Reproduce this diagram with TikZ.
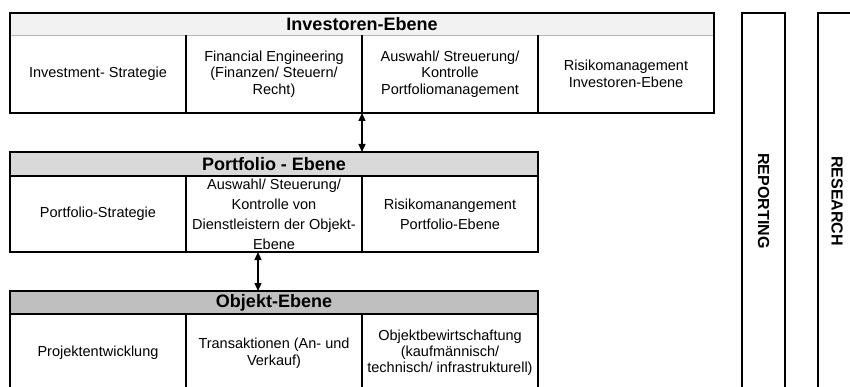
\documentclass[tikz,border=0pt]{standalone}
\usepackage{fontspec}
\setmainfont{Liberation Sans}
\usetikzlibrary{arrows.meta}
\definecolor{hdrA}{gray}{0.95}
\definecolor{hdrB}{gray}{0.85}
\definecolor{hdrC}{gray}{0.75}
\begin{document}
\begin{tikzpicture}[x=1pt,y=-1pt,
  frame/.style={line width=2pt},
  hdr/.style={minimum height=22pt, inner sep=0pt, outer sep=0pt, anchor=north west,
    font=\bfseries\fontsize{18}{20}\selectfont},
  cell/.style={minimum width=176pt, inner sep=0pt, outer sep=0pt, align=center, anchor=north west,
    font=\fontsize{14.5}{16.7}\selectfont},
  wide/.style={font=\fontsize{14.5}{20}\selectfont},
  link/.style={line width=1.2pt, {Triangle[length=8pt,width=7pt]}-{Triangle[length=8pt,width=7pt]}},
  sidebox/.style={draw, line width=2pt, inner sep=0pt, outer sep=0pt, anchor=north west, minimum height=376pt},
  sidelabel/.style={rotate=-90, font=\bfseries\fontsize{16}{18}\selectfont}
]
\useasboundingbox (0,0) rectangle (850,387);
\clip (0,0) rectangle (850,387);

% Investoren-Ebene
\node[hdr, fill=hdrA, minimum width=704pt] (ih) at (10,13) {Investoren-Ebene};
\node[cell, minimum height=78pt] (i1) at (10,35) {Investment- Strategie};
\node[cell, minimum height=78pt] (i2) at (186,35) {Financial Engineering\\(Finanzen/ Steuern/\\Recht)};
\node[cell, minimum height=78pt] (i3) at (362,35) {Auswahl/ Streuerung/\\Kontrolle\\Portfoliomanagement};
\node[cell, minimum height=78pt] (i4) at (538,35) {Risikomanagement\\Investoren-Ebene};
\draw[line width=0.8pt, gray!55] (ih.south west) -- (ih.south east);
\draw[frame] (ih.north west) rectangle (i4.south east);
\draw[frame] (i1.north east) -- (i1.south east);
\draw[frame] (i2.north east) -- (i2.south east);
\draw[frame] (i3.north east) -- (i3.south east);

% Portfolio-Ebene
\node[hdr, fill=hdrB, minimum width=528pt, minimum height=24pt] (ph) at (10,152) {Portfolio - Ebene};
\node[cell, minimum height=76pt] (p1) at (10,176) {Portfolio-Strategie};
\node[cell, wide, minimum height=76pt] (p2) at (186,176) {Auswahl/ Steuerung/\\Kontrolle von\\Dienstleistern der Objekt-\\Ebene};
\node[cell, wide, minimum height=76pt] (p3) at (362,176) {Risikomanangement\\Portfolio-Ebene};
\draw[frame] (ph.south west) -- (ph.south east);
\draw[frame] (ph.north west) rectangle (p3.south east);
\draw[frame] (p1.north east) -- (p1.south east);
\draw[frame] (p2.north east) -- (p2.south east);

% Objekt-Ebene
\node[hdr, fill=hdrC, minimum width=528pt, minimum height=23pt] (oh) at (10,291) {Objekt-Ebene};
\node[cell, minimum height=78pt] (o1) at (10,314) {Projektentwicklung};
\node[cell, minimum height=78pt] (o2) at (186,314) {Transaktionen (An- und\\Verkauf)};
\node[cell, minimum height=78pt, font=\fontsize{14.5}{16}\selectfont] (o3) at (362,314) {Objektbewirtschaftung\\(kaufmännisch/\\technisch/ infrastrukturell)};
\draw[frame] (oh.south west) -- (oh.south east);
\draw[frame] (oh.north west) rectangle (o3.south east);
\draw[frame] (o1.north east) -- (o1.south east);
\draw[frame] (o2.north east) -- (o2.south east);

% connectors
\coordinate (a2) at (258,0);
\draw[link] (i2.south east) -- (i2.south east |- ph.north);
\draw[link] (a2 |- p2.south) -- (a2 |- oh.north);

% side columns
\node[sidebox, minimum width=43pt] (rep) at (742,13) {};
\node[sidelabel] at (rep.center) {REPORTING};
\node[sidebox, minimum width=38pt] (res) at (818,13) {};
\node[sidelabel] at (res.center) {RESEARCH};
\end{tikzpicture}
\end{document}
